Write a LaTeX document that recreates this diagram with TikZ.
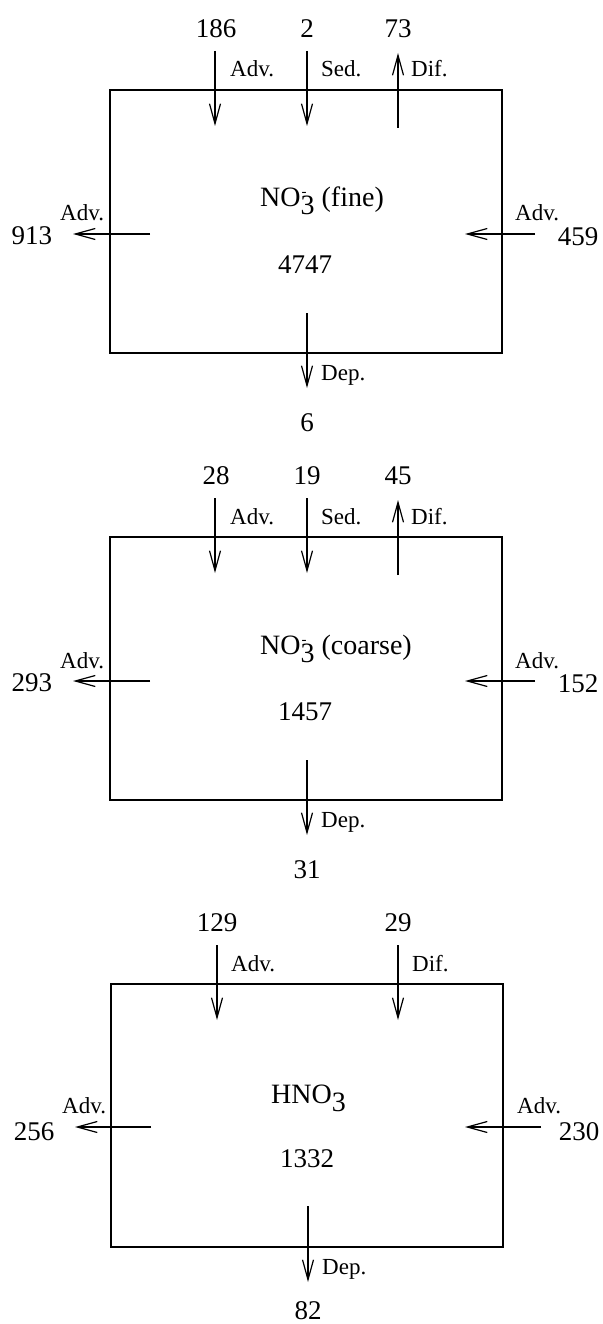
\documentclass[tikz,border=0pt]{standalone}
\usepackage{fontspec}
\setmainfont{Liberation Serif}
\usetikzlibrary{arrows.meta}
\newcommand\myminus{\rlap{\kern1pt\raisebox{10pt}{\fontsize{15}{15}\selectfont -}}}
\newcommand\mysubthree{\raisebox{-8pt}{3}}
\tikzset{
  num/.style={font=\fontsize{27}{30}\selectfont, inner sep=0pt},
  lab/.style={font=\fontsize{23}{26}\selectfont, inner sep=0pt, anchor=base west},
  spec/.style={font=\fontsize{28}{32}\selectfont, inner sep=0pt, anchor=base west},
  flux/.style={line width=1.2pt, -{Straight Barb[length=20pt,width=11pt,line width=1.2pt]}},
  budget/.style={draw, line width=2.6pt, minimum width=392pt, minimum height=263pt, inner sep=0pt},
}
\begin{document}
\begin{tikzpicture}[x=1pt,y=-1pt]
\useasboundingbox (0,0) rectangle (602,1324);
% ---------------- panel 1
\begin{scope}
  \node[budget] (abox) at (306,221.5) {};
  \node[spec] (aspec) at (260,207) {NO\myminus\mysubthree\ (fine)};
  \node[num] (aval) at (305,265) {4747};
  \node[num] (at1) at (216,29) {186};
  \node[num] (at2) at (307,29) {2};
  \node[num] (at3) at (398,29) {73};
  \coordinate (at1s) at (215,51);  \coordinate (at1e) at (215,126);
  \coordinate (at2s) at (307,51);  \coordinate (at2e) at (307,126);
  \coordinate (at3s) at (398,128); \coordinate (at3e) at (398,53);
  \draw[flux] (at1s) -- (at1e);
  \draw[flux] (at2s) -- (at2e);
  \draw[flux] (at3s) -- (at3e);
  \node[lab] (al1) at (230,77) {Adv.};
  \node[lab] (al2) at (321,77) {Sed.};
  \node[lab] (al3) at (411,77) {Dif.};
  \node[num] (aleft) at (32,236) {913};
  \node[num] (aright) at (578,237) {459};
  \coordinate (als) at (150,234); \coordinate (ale) at (73,234);
  \coordinate (ars) at (535,234); \coordinate (are) at (465,234);
  \draw[flux] (als) -- (ale);
  \draw[flux] (ars) -- (are);
  \node[lab] (alleft) at (60,221) {Adv.};
  \node[lab] (alright) at (515,221) {Adv.};
  \coordinate (abs) at (307,313); \coordinate (abe) at (307,388);
  \draw[flux] (abs) -- (abe);
  \node[lab] (aldep) at (321,380) {Dep.};
  \node[num] (abot) at (307,423) {6};
\end{scope}
% ---------------- panel 2
\begin{scope}[yshift=-447pt]
  \node[budget] (bbox) at (306,221.5) {};
  \node[spec] (bspec) at (260,207) {NO\myminus\mysubthree\ (coarse)};
  \node[num] (bval) at (305,265) {1457};
  \node[num] (bt1) at (216,29) {28};
  \node[num] (bt2) at (307,29) {19};
  \node[num] (bt3) at (398,29) {45};
  \coordinate (bt1s) at (215,51);  \coordinate (bt1e) at (215,126);
  \coordinate (bt2s) at (307,51);  \coordinate (bt2e) at (307,126);
  \coordinate (bt3s) at (398,128); \coordinate (bt3e) at (398,53);
  \draw[flux] (bt1s) -- (bt1e);
  \draw[flux] (bt2s) -- (bt2e);
  \draw[flux] (bt3s) -- (bt3e);
  \node[lab] (bl1) at (230,77) {Adv.};
  \node[lab] (bl2) at (321,77) {Sed.};
  \node[lab] (bl3) at (411,77) {Dif.};
  \node[num] (bleft) at (32,236) {293};
  \node[num] (bright) at (578,237) {152};
  \coordinate (bls) at (150,234); \coordinate (ble) at (73,234);
  \coordinate (brs) at (535,234); \coordinate (bre) at (465,234);
  \draw[flux] (bls) -- (ble);
  \draw[flux] (brs) -- (bre);
  \node[lab] (blleft) at (60,221) {Adv.};
  \node[lab] (blright) at (515,221) {Adv.};
  \coordinate (bbs) at (307,313); \coordinate (bbe) at (307,388);
  \draw[flux] (bbs) -- (bbe);
  \node[lab] (bldep) at (321,380) {Dep.};
  \node[num] (bbot) at (307,423) {31};
\end{scope}
% ---------------- panel 3
\begin{scope}[yshift=-894pt]
  \node[budget] (cbox) at (307,221.5) {};
  \node[spec] (cspec) at (271,209) {HNO\mysubthree};
  \node[num] (cval) at (307,265) {1332};
  \node[num] (ct1) at (217,29) {129};
  \node[num] (ct3) at (398,29) {29};
  \coordinate (ct1s) at (217,51);  \coordinate (ct1e) at (217,126);
  \coordinate (ct3s) at (398,51);  \coordinate (ct3e) at (398,126);
  \draw[flux] (ct1s) -- (ct1e);
  \draw[flux] (ct3s) -- (ct3e);
  \node[lab] (cl1) at (231,77) {Adv.};
  \node[lab] (cl3) at (412,77) {Dif.};
  \node[num] (cleft) at (34,238) {256};
  \node[num] (cright) at (579,238) {230};
  \coordinate (cls) at (151,233); \coordinate (cle) at (75,233);
  \coordinate (crs) at (541,233); \coordinate (cre) at (465,233);
  \draw[flux] (cls) -- (cle);
  \draw[flux] (crs) -- (cre);
  \node[lab] (clleft) at (62,219) {Adv.};
  \node[lab] (clright) at (517,219) {Adv.};
  \coordinate (cbs) at (308,312); \coordinate (cbe) at (308,388);
  \draw[flux] (cbs) -- (cbe);
  \node[lab] (cldep) at (322,380) {Dep.};
  \node[num] (cbot) at (308,417) {82};
\end{scope}
\end{tikzpicture}
\end{document}
